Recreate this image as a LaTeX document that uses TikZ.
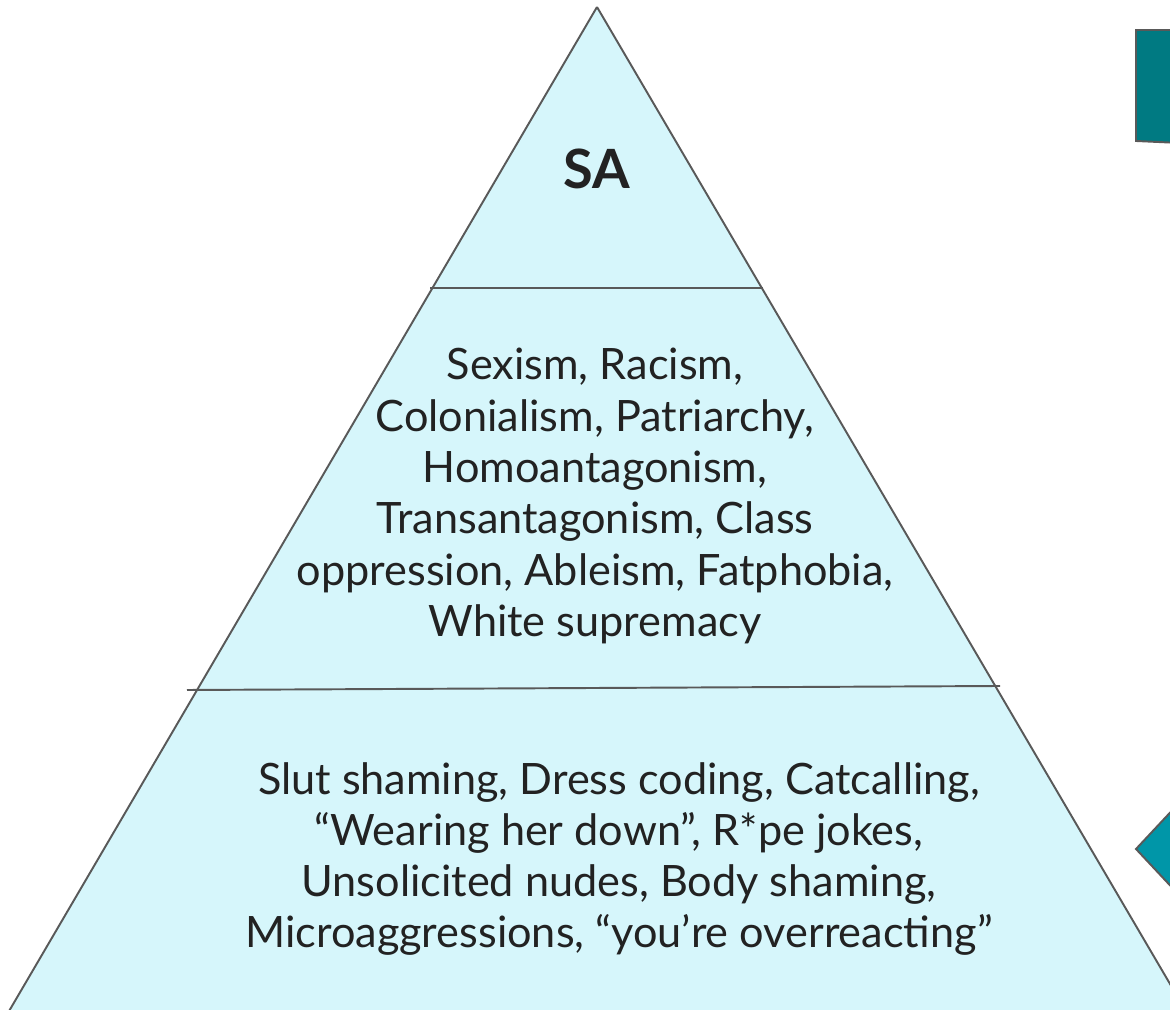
\documentclass[tikz,border=0pt]{standalone}
\usepackage{fontspec}
\setmainfont{Lato}
\definecolor{pyrfill}{HTML}{D6F6FB}
\definecolor{edgegray}{HTML}{595959}
\definecolor{darkteal}{HTML}{007A82}
\definecolor{liteteal}{HTML}{0096A8}
\definecolor{inkdark}{HTML}{222222}
\tikzstyle{tier}=[align=center,text=inkdark,inner sep=0pt,font=\fontsize{12.3}{14.6}\selectfont]

\begin{document}
\begin{tikzpicture}[x=0.1mm,y=-0.1mm]
		\tikzstyle{rule}=[draw=edgegray,line width=0.55pt]
		\useasboundingbox (0,0) rectangle (1170,1010);
		\coordinate (apex) at (597,7);
		\coordinate (bl) at (5,1018);
		\coordinate (br) at (1190,1018);
		
		\fill[pyrfill] (apex) -- (bl) -- (br) -- cycle;
		\draw[rule] (apex) -- (bl);
		\draw[rule] (apex) -- (br);
		\draw[rule] (430,288) -- (763,288);
		\draw[rule] (187,690) -- (1000,686);
		
		\draw[rule,fill=darkteal] (1180,30) -- (1136,30) -- (1136,141) -- (1180,143);
		\draw[rule,fill=liteteal] (1180,802) -- (1136,849) -- (1180,896);
		
		\node[tier,font=\fontsize{15.4}{18}\selectfont\bfseries] (sa) at (597,169) {SA};
		\node[tier] (systems) at (595,496) {Sexism, Racism,\\Colonialism, Patriarchy,\\Homoantagonism,\\Transantagonism, Class\\oppression, Ableism, Fatphobia,\\White supremacy};
		\node[tier] (everyday) at (619,859) {Slut shaming, Dress coding, Catcalling,\\``Wearing her down'', R*pe jokes,\\Unsolicited nudes, Body shaming,\\Microaggressions, ``you're overreacting''};
\end{tikzpicture}
\end{document}
